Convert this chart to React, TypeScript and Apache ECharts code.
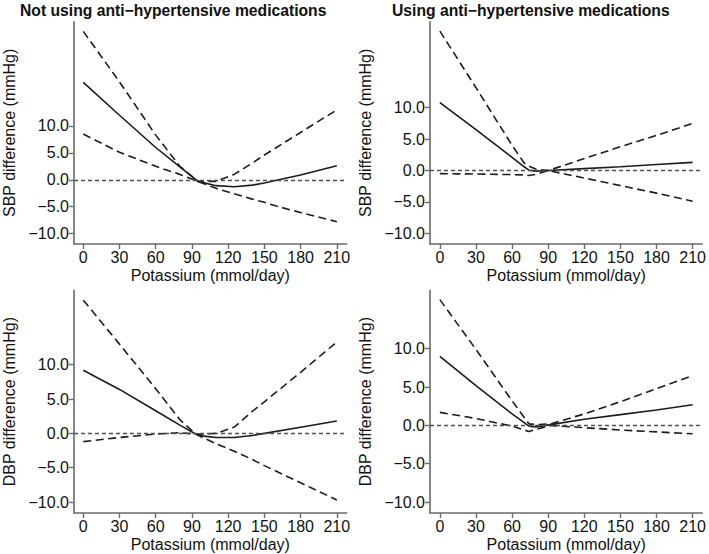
import React, { useEffect, useRef } from "react";
import * as echarts from "echarts";

// ---- data ----
const xTicks = [0, 30, 60, 90, 120, 150, 180, 210];
const yTicks = [-10, -5, 0, 5, 10];

const titleLeft = "Not using anti\u2212hypertensive medications";
const titleRight = "Using anti\u2212hypertensive medications";
const yNameSBP = "SBP difference (mmHg)";
const yNameDBP = "DBP difference (mmHg)";
const xName = "Potassium (mmol/day)";

// Panel 1: SBP, not using medications
const x1 = [0, 30, 60, 80, 95, 110, 125, 140, 150, 160, 180, 210];
const est1 = [18.1, 12.0, 6.0, 2.4, -0.3, -1.1, -1.3, -1.0, -0.6, -0.1, 0.9, 2.6];
const lo1 = [8.5, 5.1, 2.5, 1.0, -0.3, -1.6, -2.6, -3.6, -4.2, -4.9, -6.1, -7.8];
const hi1 = [27.6, 18.2, 8.3, 2.5, -0.3, -0.3, 1.0, 3.1, 4.6, 6.0, 8.8, 13.0];

// Panel 2: SBP, using medications
const x2 = [0, 30, 60, 70, 74, 80, 90, 120, 150, 180, 210];
const est2 = [10.8, 6.5, 2.1, 0.6, 0.05, -0.1, 0.0, 0.3, 0.6, 0.95, 1.3];
const hi2 = [22.2, 13.2, 4.0, 1.2, 0.7, 0.2, 0.0, 1.9, 3.8, 5.6, 7.5];
const lo2 = [-0.5, -0.55, -0.65, -0.7, -0.8, -0.6, 0.0, -1.2, -2.4, -3.6, -4.9];

// Panel 3: DBP, not using medications
const x3 = [0, 30, 60, 80, 93, 100, 110, 125, 140, 150, 180, 210];
const est3 = [9.2, 6.4, 3.3, 1.2, -0.1, -0.4, -0.6, -0.6, -0.3, 0.0, 0.9, 1.8];
const lo3 = [-1.2, -0.6, -0.1, 0.1, -0.1, -0.7, -1.5, -2.6, -3.8, -4.7, -7.2, -9.7];
const hi3 = [19.4, 13.0, 6.5, 2.0, -0.1, -0.1, 0.0, 0.9, 3.2, 4.6, 8.9, 13.3];

// Panel 4: DBP, using medications
const x4 = [0, 30, 60, 74, 80, 92, 120, 150, 180, 210];
const est4 = [9.0, 5.2, 1.5, -0.1, -0.2, 0.1, 0.8, 1.4, 2.0, 2.7];
const hi4 = [16.4, 9.9, 3.2, 0.2, 0.1, 0.2, 1.5, 3.1, 4.8, 6.5];
const lo4 = [1.7, 0.9, -0.1, -0.8, -0.5, 0.0, -0.3, -0.6, -0.85, -1.1];

// ---- layout ----
const panels = [
  { x: x1, est: est1, lo: lo1, hi: hi1, yName: yNameSBP, left: 72.3, top: 21.7, height: 222.3, xMin: -7.7, xMax: 218.2, yMin: -11.95, yMax: 29.4 },
  { x: x2, est: est2, lo: lo2, hi: hi2, yName: yNameSBP, left: 430, top: 21.7, height: 222.3, xMin: -8.2, xMax: 218.0, yMin: -11.7, yMax: 23.7 },
  { x: x3, est: est3, lo: lo3, hi: hi3, yName: yNameDBP, left: 72.3, top: 290.3, height: 222.7, xMin: -7.7, xMax: 218.2, yMin: -11.6, yMax: 20.84 },
  { x: x4, est: est4, lo: lo4, hi: hi4, yName: yNameDBP, left: 430, top: 290.3, height: 222.7, xMin: -8.2, xMax: 218.0, yMin: -11.43, yMax: 17.62 },
];
const plotWidth = 274.4;

const FONT = "'Liberation Sans', Arial, Helvetica, sans-serif";
const AXIS_COLOR = "#6a6a6a";
const LINE_COLOR = "#1c1c1c";

const fmtY = (v: number) => (v < 0 ? "\u2212" : "") + Math.abs(v).toFixed(1);

function zip(xs: number[], ys: number[]) {
  return xs.map((x, i) => [x, ys[i]]);
}

function buildOption() {
  const grid: any[] = [];
  const xAxis: any[] = [];
  const yAxis: any[] = [];
  const series: any[] = [];
  panels.forEach((p, i) => {
    grid.push({ left: p.left, top: p.top, width: plotWidth, height: p.height, containLabel: false });
    xAxis.push({
      type: "value",
      gridIndex: i,
      min: p.xMin,
      max: p.xMax,
      name: xName,
      nameLocation: "middle",
      nameGap: 23,
      nameTextStyle: { fontFamily: FONT, fontSize: 16, color: "#111" },
      axisLine: { show: true, onZero: false, lineStyle: { color: AXIS_COLOR, width: 1.6 } },
      axisTick: { show: true, length: 5, customValues: xTicks, lineStyle: { color: AXIS_COLOR, width: 1.4 } },
      axisLabel: { show: true, customValues: xTicks, margin: 5, fontFamily: FONT, fontSize: 16, color: "#111", formatter: (v: number) => String(v) },
      splitLine: { show: false },
    });
    yAxis.push({
      type: "value",
      gridIndex: i,
      min: p.yMin,
      max: p.yMax,
      name: p.yName,
      nameLocation: "middle",
      nameGap: 57,
      nameTextStyle: { fontFamily: FONT, fontSize: 16, color: "#111" },
      axisLine: { show: true, onZero: false, lineStyle: { color: AXIS_COLOR, width: 1.6 } },
      axisTick: { show: true, length: 5, customValues: yTicks, lineStyle: { color: AXIS_COLOR, width: 1.4 } },
      axisLabel: { show: true, customValues: yTicks, margin: 5, fontFamily: FONT, fontSize: 16, color: "#111", formatter: fmtY },
      splitLine: { show: false },
    });
    const common = {
      type: "line",
      xAxisIndex: i,
      yAxisIndex: i,
      showSymbol: false,
      symbol: "none",
      silent: true,
      smooth: false,
    };
    series.push({
      ...common,
      name: "estimate" + i,
      data: zip(p.x, p.est),
      lineStyle: { color: LINE_COLOR, width: 1.6, type: "solid" },
      markLine: {
        silent: true,
        symbol: ["none", "none"],
        label: { show: false },
        lineStyle: { color: "#505050", width: 1.4, type: [4, 3] },
        data: [{ yAxis: 0 }],
      },
      z: 3,
    });
    series.push({
      ...common,
      name: "lower" + i,
      data: zip(p.x, p.lo),
      lineStyle: { color: LINE_COLOR, width: 1.6, type: [8, 4.5] },
      z: 2,
    });
    series.push({
      ...common,
      name: "upper" + i,
      data: zip(p.x, p.hi),
      lineStyle: { color: LINE_COLOR, width: 1.6, type: [8, 4.5] },
      z: 2,
    });
  });

  const titleStyle = { fontFamily: FONT, fontSize: 15.7, fontWeight: "bold", fill: "#111", align: "left", verticalAlign: "middle" };

  return {
    animation: false,
    backgroundColor: "#ffffff",
    graphic: [
      { type: "text", left: 20, top: 2, silent: true, style: { ...titleStyle, text: titleLeft } },
      { type: "text", left: 392, top: 2, silent: true, style: { ...titleStyle, text: titleRight } },
    ],
    grid,
    xAxis,
    yAxis,
    series,
  };
}

export default function App() {
  const ref = useRef<HTMLDivElement>(null);
  useEffect(() => {
    if (!ref.current) return;
    const chart = echarts.init(ref.current, undefined, { renderer: "svg" });
    chart.setOption(buildOption() as any);
    return () => chart.dispose();
  }, []);
  return (
    <div
      ref={ref}
      style={{ position: "absolute", left: 0, top: 0, width: 709, height: 554, background: "#fff" }}
    />
  );
}
